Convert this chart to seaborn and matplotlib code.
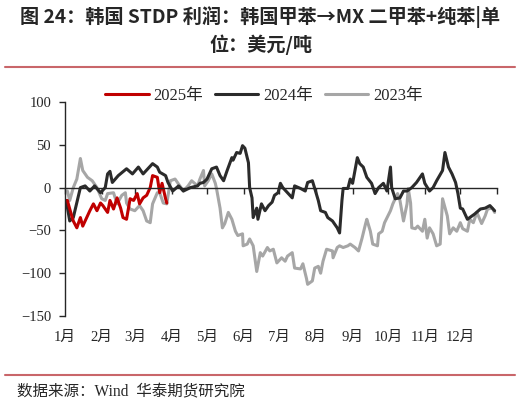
import numpy as np
import pandas as pd
import matplotlib
matplotlib.use("Agg")
import matplotlib.pyplot as plt
import seaborn as sns
from matplotlib.lines import Line2D

# day of year / profit (USD per ton)
days_2025 = [2, 4, 7, 10, 13, 15, 19, 21, 24, 27, 30, 32, 36, 38, 41, 44, 47, 49, 52,
             55, 58, 61, 63, 66, 69, 72, 74, 78, 80, 82, 85, 86]
vals_2025 = [-15, -25, -39, -47, -35, -45, -33, -27, -19, -27, -18, -21, -29, -15, -25,
             -12, -24, -35, -37, -13, -15, -7, -19, -12, -9, 0, 14, 12, -6, 5, -13, -18]

days_2024 = [1, 4, 7, 13, 17, 21, 25, 30, 34, 36, 38, 40, 45, 52, 57, 62, 66, 74, 78,
             80, 85, 87, 91, 96, 100, 106, 112, 114, 117, 120, 124, 128, 131, 134, 137,
             141, 142, 145, 148, 150, 152, 155, 156, 158, 159, 162, 163, 166, 169, 172,
             175, 177, 180, 182, 184, 188, 192, 194, 199, 203, 205, 209, 211, 214, 216,
             220, 222, 226, 230, 232, 234, 235, 239, 241, 243, 247, 249, 252, 255, 259,
             262, 265, 269, 272, 275, 276, 279, 283, 286, 289, 293, 297, 302, 304, 308,
             311, 314, 319, 321, 324, 327, 330, 332, 334, 336, 340, 342, 346, 351, 355,
             359, 363]
vals_2024 = [-15, -39, -35, 0, 2, -4, 2, -6, 0, 16, 19, 6, 14, 22, 16, 24, 16, 28, 24,
             18, 14, 6, -4, 2, -4, 0, 2, 5, 6, 10, 22, 24, 14, 8, 20, 35, 32, 41, 40, 49,
             46, 29, 0, -12, -35, -24, -37, -19, -27, -21, -17, -9, -6, 5, 0, -6, -12, 2,
             -1, -4, 6, 8, -1, -15, -27, -29, -35, -39, -47, -53, -15, -1, -1, 10, 5, 35,
             28, 24, 12, 5, -7, 0, 5, -4, 24, 0, -13, -12, -4, -4, 0, 6, 16, 5, -4, 0, 8,
             20, 41, 24, 16, 6, -7, -24, -25, -37, -35, -31, -25, -24, -21, -27]

days_2023 = [2, 4, 7, 10, 13, 15, 19, 23, 27, 31, 34, 36, 41, 44, 48, 51, 52, 55, 59,
             63, 66, 69, 72, 74, 78, 80, 83, 86, 89, 93, 97, 100, 104, 107, 112, 114, 117,
             118, 121, 124, 127, 128, 131, 133, 135, 138, 141, 144, 146, 150, 150.5, 154,
             156, 159, 162, 165, 167, 171, 173, 176, 179, 183, 186, 188, 192, 194, 199,
             201, 204, 205, 209, 211, 214, 216, 218, 221, 226, 226.5, 230, 232, 235, 239,
             241, 245, 248, 251, 254, 255, 258, 260, 264, 265, 268, 270, 275, 277, 281,
             283, 286, 289, 290, 292, 293, 296, 298, 302, 304, 306, 308, 311, 314, 317,
             319, 323, 325, 328, 331, 334, 336, 340, 342, 345, 348, 352, 355, 357, 361,
             363]
vals_2023 = [-4, -15, 0, 10, 34, 20, 12, 8, 0, -13, -15, -7, -6, -19, -9, -6, -18, -25,
             -27, -21, -27, -39, -41, -19, -6, -6, -18, -19, 8, 10, 2, -4, 2, 8, 2, 10,
             20, 2, 8, 16, 5, -1, -24, -47, -42, -29, -37, -51, -56, -54, -68, -66, -60,
             -68, -98, -76, -80, -70, -74, -72, -88, -82, -86, -80, -76, -94, -95, -89,
             -106, -113, -109, -94, -92, -100, -86, -72, -74, -82, -70, -68, -70, -68,
             -66, -70, -74, -59, -42, -37, -51, -66, -68, -54, -51, -41, -27, -19, -7,
             -15, -39, -19, -1, -18, -47, -48, -45, -51, -37, -59, -47, -54, -68, -66,
             -13, -33, -54, -47, -51, -41, -48, -51, -37, -41, -29, -42, -33, -25, -24,
             -29]

series = ["2025年", "2024年", "2023年"]
colors = ["#C00000", "#2B2B2B", "#A6A6A6"]

month_starts = [0, 31, 59, 90, 120, 151, 181, 212, 243, 273, 304, 334, 365]
month_labels = [f"{m}月" for m in range(1, 13)] + [""]

df = pd.concat([
    pd.DataFrame({"day": days_2025, "value": vals_2025, "year": "2025年"}),
    pd.DataFrame({"day": days_2024, "value": vals_2024, "year": "2024年"}),
    pd.DataFrame({"day": days_2023, "value": vals_2023, "year": "2023年"}),
])

sns.set_style("ticks")
serif = ["Liberation Serif", "Noto Sans CJK SC"]
plt.rcParams["font.family"] = serif

fig = plt.figure(figsize=(5.21, 4.05), dpi=100)
ax = fig.add_axes([65 / 521, 89 / 405, 432 / 521, 214 / 405])

# draw older years first so 2025 sits on top
for name in ["2023年", "2024年", "2025年"]:
    sub = df[df["year"] == name]
    sns.lineplot(data=sub, x="day", y="value", ax=ax, color=colors[series.index(name)],
                 linewidth=2.2, estimator=None, sort=False, legend=False)

ax.set_xlim(0, 365)
ax.set_ylim(-150, 100)
ax.set_yticks([100, 50, 0, -50, -100, -150])
ax.set_xticks(month_starts)
ax.set_xticklabels(month_labels)
ax.set_xlabel("")
ax.set_ylabel("")

for s in ["top", "right"]:
    ax.spines[s].set_visible(False)
ax.spines["bottom"].set_position(("data", 0))
ax.spines["bottom"].set_linewidth(1.0)
ax.spines["left"].set_linewidth(1.0)
ax.tick_params(axis="x", direction="out", length=4, width=1, pad=99, labelsize=10.5)
ax.tick_params(axis="y", direction="out", length=4, width=1, labelsize=10.5, pad=6)

handles = [Line2D([], [], color=c, linewidth=2.2) for c in colors]
fig.legend(handles, series, loc="center", bbox_to_anchor=(264 / 521, 1 - 96 / 405),
           ncol=3, frameon=False, fontsize=12, handlelength=2.6, handletextpad=0.3,
           columnspacing=0.7)

# title
title_font = ["Noto Sans CJK SC", "DejaVu Sans"]
fig.text(0.5, 1 - 17 / 405, "图 24：韩国 STDP 利润：韩国甲苯→MX 二甲苯+纯苯|单",
         ha="center", va="center", fontsize=13.8, fontweight="bold", family=title_font)
fig.text(0.5, 1 - 45 / 405, "位：美元/吨", ha="center", va="center", fontsize=13.8,
         fontweight="bold", family=title_font)

fig.add_artist(Line2D([5 / 521, 515 / 521], [1 - 67 / 405] * 2, color="#C9666A",
                      linewidth=1.5, transform=fig.transFigure))
fig.add_artist(Line2D([5 / 521, 515 / 521], [1 - 375 / 405] * 2, color="#C9666A",
                      linewidth=1.5, transform=fig.transFigure))

fig.text(17 / 521, 1 - 392 / 405, "数据来源：Wind  华泰期货研究院", ha="left", va="center",
         fontsize=11.2, family=serif)

fig.savefig("out.png", dpi=100, facecolor="white")
